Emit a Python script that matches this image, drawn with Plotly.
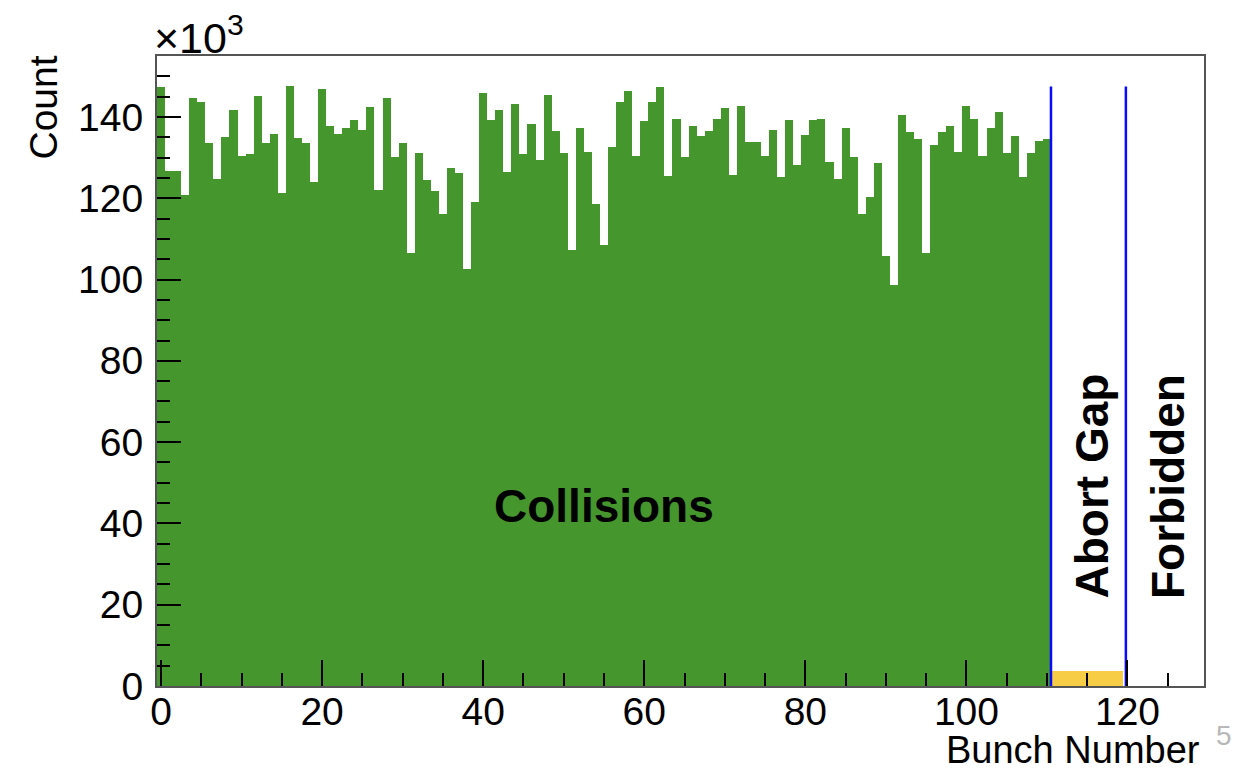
import plotly.graph_objects as go

# ---- data (counts in units of 10^3) ----
collision_bunches = list(range(0, 111))
collision_counts_k = [
    147.3, 126.7, 126.7, 120.8, 144.6, 143.6, 133.5, 124.7, 135.1, 141.8,
    130.5, 130.8, 145.2, 133.5, 135.8, 121.4, 147.5, 134.9, 133.6, 124.0,
    146.9, 137.8, 135.9, 137.2, 139.2, 136.9, 142.5, 122.1, 144.6, 130.2,
    133.7, 106.6, 131.1, 124.4, 121.7, 116.1, 127.4, 126.1, 102.6, 119.0,
    146.0, 139.3, 141.6, 126.5, 143.2, 130.9, 138.2, 129.5, 145.5, 136.5,
    131.1, 107.3, 137.2, 131.4, 118.7, 108.5, 132.6, 143.7, 146.3, 130.5,
    138.9, 143.6, 147.3, 125.6, 139.6, 130.2, 137.8, 135.2, 136.5, 139.6,
    142.2, 125.8, 142.8, 133.8, 133.8, 130.5, 136.8, 125.2, 139.2, 128.2,
    135.5, 139.2, 139.6, 128.8, 124.8, 137.2, 130.2, 116.2, 120.4, 128.7,
    105.8, 98.7, 140.5, 136.2, 134.5, 106.6, 133.1, 136.2, 137.8, 131.5,
    142.8, 139.6, 130.5, 137.2, 141.2, 131.2, 135.4, 125.2, 131.1, 134.0,
    134.5,
]
abort_bunches = list(range(111, 120))
abort_counts_k = [3.8, 3.8, 3.8, 3.8, 3.8, 3.8, 3.8, 3.8, 3.8]

boundary_x = [110.5, 119.8]
boundary_top_k = 147.5

region_labels = ["Collisions", "Abort Gap", "Forbidden"]
region_label_x = [55, 115.6, 125.1]
region_label_y = [44.3, 49.1, 49.1]
region_label_angle = [0, -90, -90]

x_ticks = [0, 20, 40, 60, 80, 100, 120]
y_ticks = [0, 20, 40, 60, 80, 100, 120, 140]

FONT = "Liberation Sans, Arial, Helvetica, sans-serif"

fig = go.Figure()
fig.add_trace(go.Bar(x=collision_bunches, y=collision_counts_k, width=1,
                     marker=dict(color="#45972d", line=dict(width=0)),
                     showlegend=False, hoverinfo="x+y"))
fig.add_trace(go.Bar(x=abort_bunches, y=abort_counts_k, width=1,
                     marker=dict(color="#f7cd46", line=dict(width=0)),
                     showlegend=False, hoverinfo="x+y"))
for bx in boundary_x:
    fig.add_trace(go.Scatter(x=[bx, bx], y=[0, boundary_top_k], mode="lines",
                             line=dict(color="#0a0aff", width=2.5),
                             showlegend=False, hoverinfo="skip"))

for txt, lx, ly, ang in zip(region_labels, region_label_x, region_label_y, region_label_angle):
    fig.add_annotation(x=lx, y=ly, xref="x", yref="y", text="<b>%s</b>" % txt,
                       textangle=ang, showarrow=False,
                       font=dict(family=FONT, size=46, color="black"),
                       xanchor="center", yanchor="middle")

# axis titles and multiplier (ROOT style)
fig.add_annotation(xref="paper", yref="paper", x=1.0, y=0, xshift=-2, yshift=-87,
                   text="Bunch Number", showarrow=False, xanchor="right", yanchor="bottom",
                   font=dict(family=FONT, size=38, color="black"))
fig.add_annotation(xref="paper", yref="paper", x=0, y=1.0, xshift=-138, yshift=2,
                   text="Count", textangle=-90, showarrow=False,
                   xanchor="left", yanchor="top",
                   font=dict(family=FONT, size=39, color="black"))
fig.add_annotation(xref="paper", yref="paper", x=0, y=1.0, xshift=-5, yshift=-8,
                   text="×10<sup>3</sup>", showarrow=False,
                   xanchor="left", yanchor="bottom",
                   font=dict(family=FONT, size=43, color="black"))
fig.add_annotation(xref="paper", yref="paper", x=1.0, y=0, xshift=10, yshift=-49,
                   text="5", showarrow=False, xanchor="left", yanchor="middle",
                   font=dict(family=FONT, size=28, color="#b8b8b8"))

axis_common = dict(
    ticks="inside", tickcolor="black", tickwidth=1.5,
    showline=True, linecolor="#555555", linewidth=2, mirror=True,
    showgrid=False, zeroline=False,
    tickfont=dict(family=FONT, size=39, color="black"),
)
fig.update_xaxes(range=[-0.5, 129.5], tickvals=x_ticks, ticklen=26,
                 minor=dict(ticks="inside", dtick=5, tick0=0, ticklen=13,
                            tickcolor="black", tickwidth=1.5, showgrid=False),
                 ticklabelstandoff=-10, **axis_common)
fig.update_yaxes(range=[0, 155], tickvals=y_ticks, ticklen=24,
                 minor=dict(ticks="inside", dtick=5, tick0=0, ticklen=13,
                            tickcolor="black", tickwidth=1.5, showgrid=False),
                 ticklabelstandoff=4, **axis_common)

fig.update_layout(
    width=1249, height=772, bargap=0, barmode="overlay",
    margin=dict(l=157, r=45, t=56, b=86),
    plot_bgcolor="white", paper_bgcolor="white",
    font=dict(family=FONT, color="black"),
)

fig.write_html("out.html")
